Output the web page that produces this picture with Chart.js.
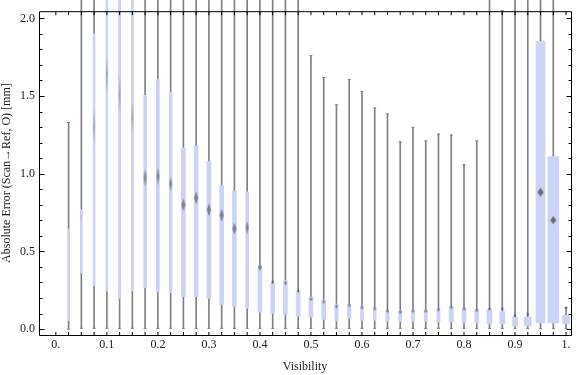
<!DOCTYPE html>
<html>
<head>
<meta charset="utf-8">
<script src="https://cdn.jsdelivr.net/npm/chart.js@4.4.0/dist/chart.umd.min.js"></script>
<style>
html, body { margin: 0; padding: 0; background: #fff; }
canvas { display: block; }
</style>
</head>
<body>
<canvas id="chart" width="576" height="375"></canvas>
<script>
// visibility bins
const bins = [0.025, 0.05, 0.075, 0.1, 0.125, 0.15, 0.175, 0.2, 0.225, 0.25,
	0.275, 0.3, 0.325, 0.35, 0.375, 0.4, 0.425, 0.45, 0.475, 0.5,
	0.525, 0.55, 0.575, 0.6, 0.625, 0.65, 0.675, 0.7, 0.725, 0.75,
	0.775, 0.8, 0.825, 0.85, 0.875, 0.9, 0.925, 0.95, 0.975, 1.0]

// absolute error statistics per bin [mm]
const whiskerLow = [0.0, 0.005, 0.005, 0.005, 0.005, 0.005, 0.005, 0.005, 0.005, 0.005,
	0.005, 0.005, 0.005, 0.005, 0.005, 0.005, 0.005, 0.005, 0.005, 0.005,
	0.003, 0.005, 0.005, 0.005, 0.005, 0.005, 0.005, 0.003, 0.005, 0.005,
	0.003, 0.005, 0.003, 0.005, 0.005, 0.003, 0.003, 0.003, 0.003, 0.003]
const boxLow = [0.055, 0.36, 0.28, 0.245, 0.197, 0.245, 0.266, 0.24, 0.234, 0.209,
	0.209, 0.197, 0.159, 0.146, 0.134, 0.109, 0.102, 0.096, 0.083, 0.077,
	0.063, 0.052, 0.069, 0.056, 0.056, 0.054, 0.048, 0.048, 0.05, 0.046,
	0.046, 0.04, 0.04, 0.036, 0.034, 0.021, 0.021, 0.04, 0.04, 0.036]
const medians = [0.35, 0.72, 1.30, 1.64, 1.51, 1.36, 0.973, 0.984, 0.935, 0.80,
	0.845, 0.768, 0.732, 0.647, 0.653, 0.397, 0.303, 0.297, 0.245, 0.193,
	0.176, 0.146, 0.153, 0.138, 0.132, 0.117, 0.109, 0.117, 0.117, 0.126,
	0.14, 0.13, 0.121, 0.13, 0.13, 0.086, 0.094, 0.881, 0.701, 0.135]
const boxHigh = [0.645, 0.768, 1.90, 2.3, 2.3, 2.3, 1.505, 1.605, 1.525, 1.166,
	1.18, 1.08, 0.923, 0.889, 0.883, 0.412, 0.293, 0.312, 0.237, 0.206,
	0.188, 0.161, 0.157, 0.146, 0.138, 0.121, 0.119, 0.126, 0.126, 0.13,
	0.144, 0.138, 0.126, 0.126, 0.113, 0.077, 0.077, 1.852, 1.111, 0.088]
const whiskerHigh = [1.33, 2.3, 2.3, 2.3, 2.3, 2.3, 2.3, 2.3, 2.3, 2.3,
	2.3, 2.3, 2.3, 2.3, 2.3, 2.3, 2.3, 2.3, 2.3, 1.76,
	1.62, 1.444, 1.607, 1.53, 1.423, 1.385, 1.205, 1.298, 1.211, 1.255,
	1.249, 1.059, 1.211, 2.3, 2.05, 2.3, 2.3, 2.3, 2.3, 0.14]

const xTickValues = [0, 0.1, 0.2, 0.3, 0.4, 0.5, 0.6, 0.7, 0.8, 0.9, 1.0]
const xTickLabels = ["0.", "0.1", "0.2", "0.3", "0.4", "0.5", "0.6", "0.7", "0.8", "0.9", "1."]
const yTickValues = [0, 0.5, 1.0, 1.5, 2.0]
const yTickLabels = ["0.0", "0.5", "1.0", "1.5", "2.0"]
const xMinorTicks = [0].concat(bins)
const yMinorTicks = [0, 0.1, 0.2, 0.3, 0.4, 0.5, 0.6, 0.7, 0.8, 0.9, 1.0,
	1.1, 1.2, 1.3, 1.4, 1.5, 1.6, 1.7, 1.8, 1.9, 2.0]

// look
const boxColor = "#ccd4f5"
const whiskerColor = "#808080"
const serif = "'Liberation Serif', 'DejaVu Serif', serif"
const boxPx = [1, 1.5, 2, 2, 2, 2, 3, 3, 3, 4,
	4, 4, 4, 4, 3, 4, 4, 4, 4, 4,
	4, 3.5, 3.5, 3, 3, 3.3, 3.3, 3, 3.3, 3.3,
	4.3, 4, 4, 5, 5, 5, 7, 9, 11, 7]
const medianW = [0, 1.5, 2, 2, 2, 2, 3, 3, 3, 4,
	4, 4, 4, 4, 3, 4, 3, 3, 3, 3,
	3, 3, 3, 3, 3, 3, 3, 3, 3, 3,
	3, 3, 3, 3, 3, 3, 3, 6, 6, 3]
const medianH = [0, 12, 37, 37, 40, 33, 18, 18, 15, 13,
	13, 13, 13, 12, 13, 6, 4, 4, 4, 4,
	4, 4, 4, 4, 4, 4, 4, 4, 4, 4,
	4, 4, 4, 4, 4, 4, 4, 9, 8, 3]
const medianA = [0, 0.15, 0.3, 0.3, 0.3, 0.3, 0.55, 0.55, 0.55, 0.6,
	0.6, 0.6, 0.6, 0.6, 0.6, 0.6, 0.6, 0.6, 0.6, 0.6,
	0.6, 0.6, 0.6, 0.6, 0.6, 0.6, 0.6, 0.6, 0.6, 0.6,
	0.6, 0.6, 0.6, 0.6, 0.6, 0.6, 0.6, 0.75, 0.75, 0.6]

function diamond(w, h, a) {
	const c = document.createElement("canvas")
	c.width = Math.ceil(w) + 2
	c.height = Math.ceil(h) + 2
	if (h > 0) {
		const g = c.getContext("2d")
		g.filter = "blur(0.4px)"
		g.fillStyle = "rgba(70,70,70," + a + ")"
		g.beginPath()
		g.moveTo(c.width / 2, 1)
		g.lineTo(c.width / 2 + w / 2, c.height / 2)
		g.lineTo(c.width / 2, c.height - 1)
		g.lineTo(c.width / 2 - w / 2, c.height / 2)
		g.closePath()
		g.fill()
	}
	return c
}

// frame with inward ticks, as Mathematica draws it
const frameTicks = {
	id: "frameTicks",
	afterDatasetsDraw(chart) {
		const { ctx, chartArea: a, scales: { x, y } } = chart
		const L = a.left + 0.5, R = a.right + 0.5, T = a.top + 0.5, B = a.bottom + 0.5
		ctx.save()
		ctx.strokeStyle = "#000"
		ctx.lineWidth = 1
		ctx.beginPath()
		ctx.rect(L, T, R - L, B - T)
		for (const v of xMinorTicks) {
			const px = x.getPixelForValue(v)
			ctx.moveTo(px, B); ctx.lineTo(px, B - 3.5)
			ctx.moveTo(px, T); ctx.lineTo(px, T + 3.5)
		}
		for (const v of yMinorTicks) {
			const py = Math.round(y.getPixelForValue(v)) + 0.5
			const len = yTickValues.includes(v) ? 5 : 3
			ctx.moveTo(L, py); ctx.lineTo(L + len, py)
			ctx.moveTo(R, py); ctx.lineTo(R - len, py)
		}
		ctx.stroke()
		ctx.restore()
	}
}

const whiskers = {
	type: "bar",
	data: bins.map((b, i) => ({ x: b, y: [whiskerLow[i], whiskerHigh[i]] })),
	backgroundColor: whiskerColor,
	barThickness: 1,
	grouped: false,
	clip: false,
	order: 3,
}

const caps = {
	type: "scatter",
	data: bins.flatMap((b, i) => [{ x: b, y: whiskerLow[i] }, { x: b, y: whiskerHigh[i] }]),
	pointStyle: "line",
	pointRadius: 1.5,
	borderColor: whiskerColor,
	borderWidth: 1,
	clip: false,
	order: 2,
}

const boxes = bins.map((b, i) => ({
	type: "bar",
	data: [{ x: b, y: [boxLow[i], boxHigh[i]] }],
	backgroundColor: boxColor,
	barThickness: boxPx[i],
	grouped: false,
	clip: false,
	order: 1,
}))

const medianMarks = {
	type: "scatter",
	data: bins.map((b, i) => ({ x: b, y: medians[i] })),
	pointStyle: bins.map((b, i) => diamond(medianW[i], medianH[i], medianA[i])),
	pointRadius: 3,
	clip: false,
	order: 0,
}

new Chart(document.getElementById("chart"), {
	type: "bar",
	data: { datasets: [medianMarks, caps, whiskers].concat(boxes) },
	plugins: [frameTicks],
	options: {
		responsive: false,
		animation: false,
		events: [],
		layout: { padding: { left: 0, top: 4, right: 1, bottom: 0 } },
		plugins: { legend: { display: false }, tooltip: { enabled: false } },
		scales: {
			x: {
				type: "linear",
				offset: false,
				min: -0.033,
				max: 1.0097,
				grid: { display: false, drawTicks: false },
				border: { display: false },
				afterBuildTicks: (s) => { s.ticks = xTickValues.map(v => ({ value: v })) },
				afterFit: (s) => { s.height = 40 },
				ticks: {
					autoSkip: false,
					maxRotation: 0,
					padding: 3,
					color: "#1a1a1a",
					font: { family: serif, size: 12 },
					callback: (v, i) => xTickLabels[i],
				},
				title: {
					display: true,
					text: "Visibility",
					color: "#1a1a1a",
					font: { family: serif, size: 12 },
					padding: { top: 0, bottom: 1 },
				},
			},
			y: {
				min: -0.038,
				max: 2.046,
				grid: { display: false, drawTicks: false },
				border: { display: false },
				afterBuildTicks: (s) => { s.ticks = yTickValues.map(v => ({ value: v })) },
				afterFit: (s) => { s.width = 39 },
				ticks: {
					padding: 4,
					color: "#1a1a1a",
					font: { family: serif, size: 12 },
					callback: (v, i) => yTickLabels[i],
				},
				title: {
					display: true,
					text: "Absolute Error (Scan\u2192Ref, O) [mm]",
					color: "#1a1a1a",
					font: { family: serif, size: 12 },
					padding: { top: 0, bottom: 0 },
				},
			},
		},
	},
})
</script>
</body>
</html>
